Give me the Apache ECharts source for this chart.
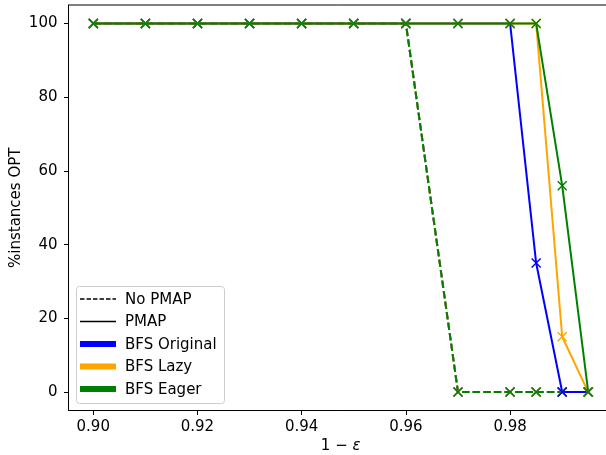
<!DOCTYPE html>
<html><head><meta charset="utf-8">
<script src="https://cdn.jsdelivr.net/npm/echarts@6/dist/echarts.min.js"></script>
<style>html,body{margin:0;padding:0;background:#fff}#c{width:606px;height:455px}</style>
</head><body><div id="c"></div>
<script>
const epsX = [0.90, 0.91, 0.92, 0.93, 0.94, 0.95, 0.96, 0.97, 0.98, 0.985, 0.99, 0.995];
const noPmapOriginal = [100, 100, 100, 100, 100, 100, 100, 0, 0, 0, 0, 0];
const noPmapLazy     = [100, 100, 100, 100, 100, 100, 100, 0, 0, 0, 0, 0];
const noPmapEager    = [100, 100, 100, 100, 100, 100, 100, 0, 0, 0, 0, 0];
const pmapOriginal   = [100, 100, 100, 100, 100, 100, 100, 100, 100, 35, 0, 0];
const pmapLazy       = [100, 100, 100, 100, 100, 100, 100, 100, 100, 100, 15, 0];
const pmapEager      = [100, 100, 100, 100, 100, 100, 100, 100, 100, 100, 56, 0];
const xTicks = [0.90, 0.92, 0.94, 0.96, 0.98];
const yTicks = [0, 20, 40, 60, 80, 100];
const legendItems = ['No PMAP', 'PMAP', 'BFS Original', 'BFS Lazy', 'BFS Eager'];

const FONT = 'DejaVu Sans';
const FS = 15;
const XSYM = 'path://M1,0L5,4L9,0L10,1L6,5L10,9L9,10L5,6L1,10L0,9L4,5L0,1Z';
const pair = (ys) => epsX.map((x, i) => [x, ys[i]]);
function mk(name, ys, color, dashed) {
  return {
    type: 'line', name, data: pair(ys), symbol: XSYM, symbolSize: 10,
    showSymbol: true, animation: false, z: 2, clip: false,
    lineStyle: { color, width: 2, type: dashed ? [7.4, 3.2] : 'solid' },
    itemStyle: { color, borderWidth: 0 },
    emphasis: { disabled: true }
  };
}
const chart = echarts.init(document.getElementById('c'), null, { renderer: 'canvas' });
const lx = 80, ly = 299, dy = 22.5;
const legendGraphics = [
  { type: 'rect', shape: { x: 76.5, y: 286.5, width: 148, height: 117, r: 3 },
    style: { fill: 'rgba(255,255,255,0.8)', stroke: '#cccccc', lineWidth: 1 }, z: 100 }
];
const legendStyles = [
  { stroke: '#000', lineWidth: 1.3, lineDash: [4.5, 2] },
  { stroke: '#000', lineWidth: 1.3 },
  { stroke: '#0000ff', lineWidth: 6 },
  { stroke: '#ffa500', lineWidth: 6 },
  { stroke: '#008000', lineWidth: 6 }
];
legendItems.forEach((t, i) => {
  legendGraphics.push({ type: 'line', shape: { x1: lx, y1: ly + i * dy, x2: lx + 36, y2: ly + i * dy },
    style: legendStyles[i], z: 101 });
  legendGraphics.push({ type: 'text', x: lx + 45, y: ly + 1 + i * dy,
    style: { text: t, font: FS + 'px "DejaVu Sans"', fill: '#000', textVerticalAlign: 'middle' }, z: 101 });
});
chart.setOption({
  animation: false,
  backgroundColor: '#fff',
  grid: { left: 68.5, top: 5, width: 544.5, height: 405.5, outerBoundsMode: 'none', containLabel: false,
    show: true, borderColor: '#000', borderWidth: 1, backgroundColor: 'transparent' },
  xAxis: {
    type: 'value', min: 0.89525, max: 0.99975,
    name: '{n|1 − }{e|ε}', nameLocation: 'middle', nameGap: 28, nameMoveOverlap: false,
    nameTextStyle: { fontFamily: FONT, fontSize: FS, color: '#000',
      rich: { n: { fontFamily: FONT, fontSize: FS, color: '#000' }, e: { fontFamily: FONT, fontSize: FS, fontStyle: 'italic', color: '#000' } } },
    axisLine: { show: true, onZero: false, lineStyle: { color: '#000', width: 1 } },
    axisTick: { show: true, length: 4.5, lineStyle: { color: '#000', width: 1 }, customValues: xTicks },
    axisLabel: { color: '#000', fontFamily: FONT, fontSize: FS, margin: 9, customValues: xTicks, formatter: v => v.toFixed(2) },
    splitLine: { show: false }
  },
  yAxis: {
    type: 'value', min: -5, max: 105,
    name: '%instances OPT', nameLocation: 'middle', nameGap: 45, nameMoveOverlap: false,
    nameTextStyle: { fontFamily: FONT, fontSize: FS, color: '#000' },
    axisLine: { show: true, onZero: false, lineStyle: { color: '#000', width: 1 } },
    axisTick: { show: true, length: 4.5, lineStyle: { color: '#000', width: 1 }, customValues: yTicks },
    axisLabel: { color: '#000', fontFamily: FONT, fontSize: FS, margin: 11, customValues: yTicks },
    splitLine: { show: false }
  },
  series: [
    mk('No PMAP BFS Original', noPmapOriginal, '#0000ff', true),
    mk('No PMAP BFS Lazy', noPmapLazy, '#ffa500', true),
    mk('No PMAP BFS Eager', noPmapEager, '#008000', true),
    mk('PMAP BFS Original', pmapOriginal, '#0000ff', false),
    mk('PMAP BFS Lazy', pmapLazy, '#ffa500', false),
    mk('PMAP BFS Eager', pmapEager, '#008000', false)
  ],
  graphic: legendGraphics
});
</script></body></html>
